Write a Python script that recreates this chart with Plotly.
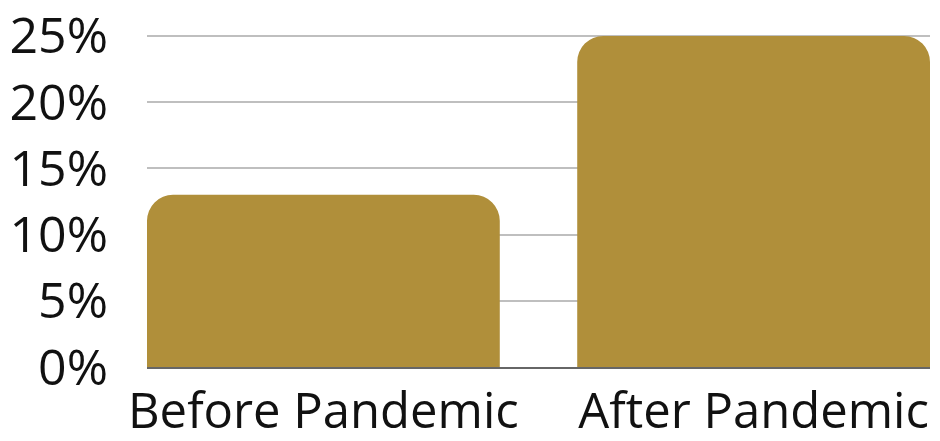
import plotly.graph_objects as go

categories = ["Before Pandemic", "After Pandemic"]
values = [0.13, 0.25]
tick_vals = [0, 0.05, 0.10, 0.15, 0.20, 0.25]
tick_text = ["0%", "5%", "10%", "15%", "20%", "25%"]

fig = go.Figure(go.Bar(
    x=categories, y=values, marker=dict(color="#B08F3A", line=dict(width=0)),
    width=0.82,
))
fig.update_layout(
    width=940, height=441,
    margin=dict(l=147, r=10, t=34, b=74),
    paper_bgcolor="white", plot_bgcolor="white",
    barcornerradius=26,
    showlegend=False,
    font=dict(family="Open Sans", size=50, color="#111111"),
)
fig.update_xaxes(
    range=[-0.41, 1.41], showgrid=False, automargin=False,
    showline=True, linecolor="#666666", linewidth=2,
    ticks="", tickfont=dict(size=49),
)
fig.update_yaxes(
    range=[0, 0.2515], tickvals=tick_vals, ticktext=tick_text,
    showgrid=True, gridcolor="#BFBFBF", gridwidth=2, automargin=False,
    zeroline=False, showline=False,
    ticks="outside", ticklen=28, tickcolor="rgba(0,0,0,0)",
)
fig.write_html(
    "out.html",
    config={"displayModeBar": False},
    post_script="document.body.style.margin='0';",
)
